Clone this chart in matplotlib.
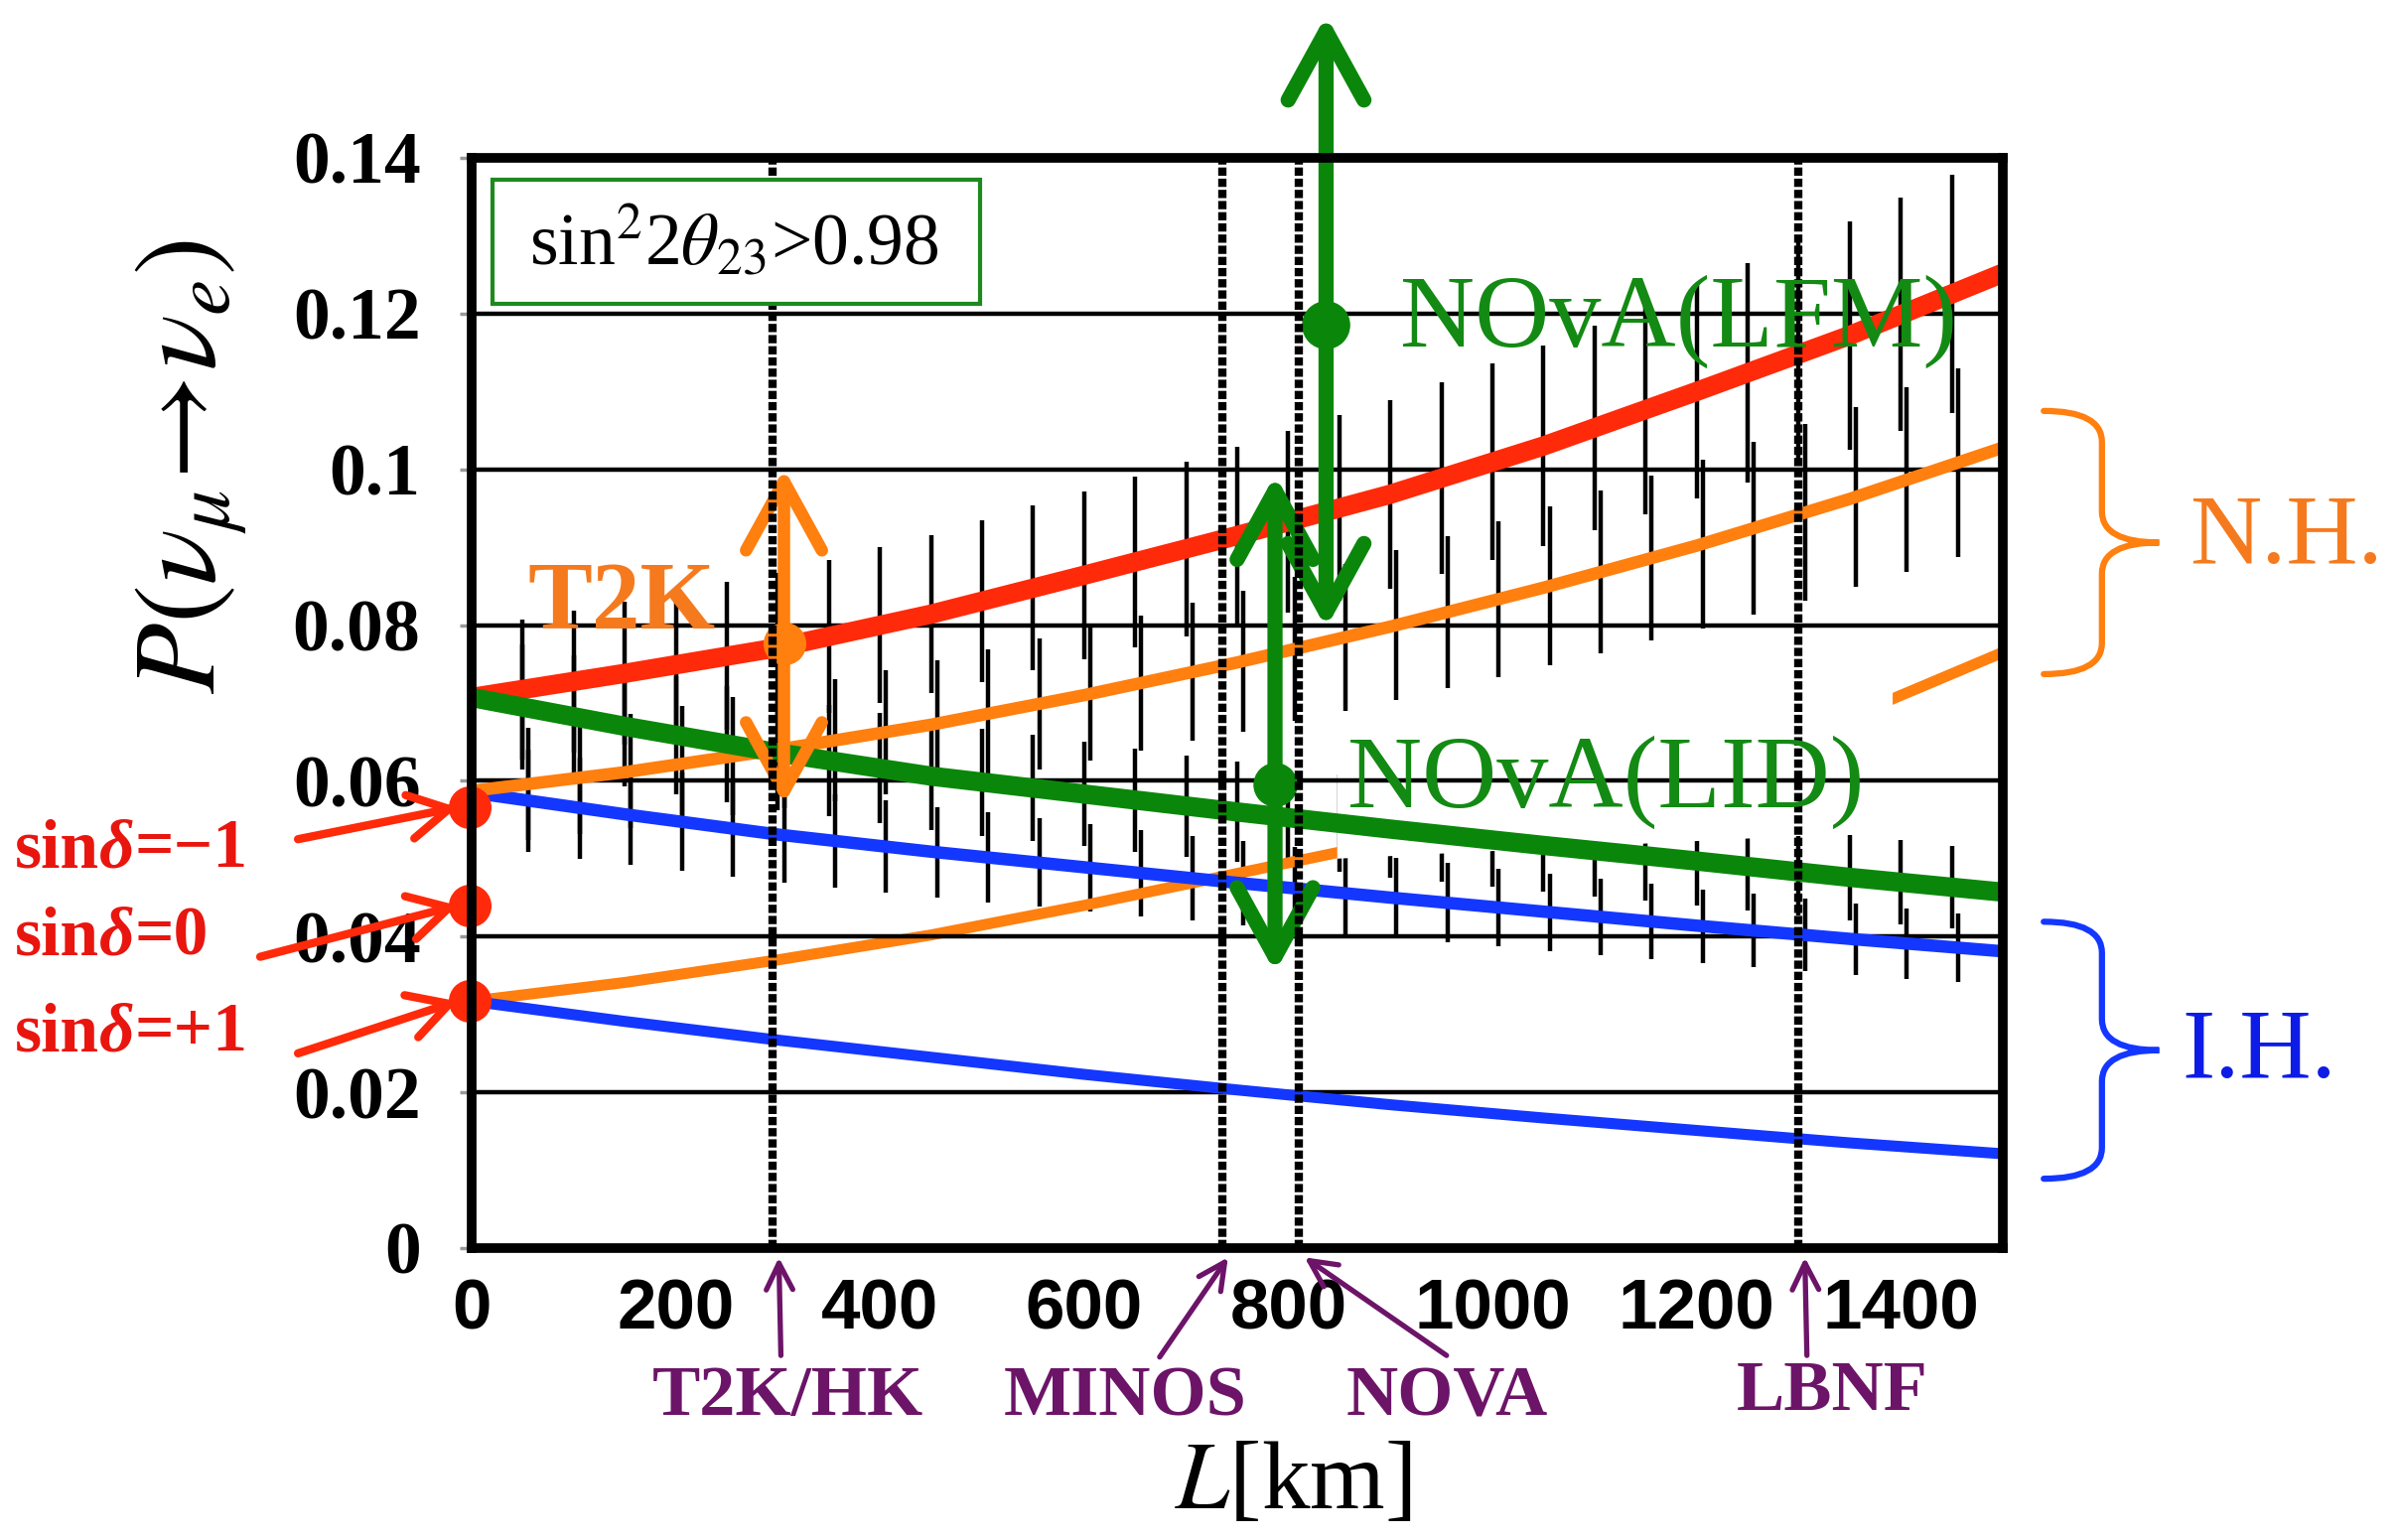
import numpy as np
import matplotlib
matplotlib.use('Agg')
from matplotlib import pyplot as plt, rcParams
from matplotlib.path import Path
from matplotlib.patches import PathPatch, Polygon, Rectangle

rcParams['font.family'] = ['Liberation Serif', 'DejaVu Sans']
rcParams['mathtext.fontset'] = 'stix'

# ---- data ----
L_curve = [0, 150, 300, 450, 600, 750, 900, 1050, 1200, 1350, 1500]
red_top = [0.0707, 0.0738, 0.0771, 0.0814, 0.0864, 0.0915, 0.0968, 0.1030, 0.1100, 0.1172, 0.1252]
green_top = [0.0707, 0.0670, 0.0636, 0.0606, 0.0583, 0.0560, 0.0538, 0.0517, 0.0497, 0.0476, 0.0457]
nh_minus = [0.0587, 0.0611, 0.0640, 0.0672, 0.0710, 0.0752, 0.0798, 0.0848, 0.0902, 0.0962, 0.1028]
ih_minus = [0.0585, 0.0557, 0.0531, 0.0509, 0.0489, 0.0469, 0.0450, 0.0432, 0.0414, 0.0397, 0.0381]
nh_plus = [0.0317, 0.0341, 0.0370, 0.0402, 0.0440, 0.0481, 0.0522, 0.0565, 0.0617, 0.0682, 0.0765]
ih_plus = [0.0317, 0.0291, 0.0267, 0.0245, 0.0223, 0.0203, 0.0184, 0.0167, 0.0151, 0.0135, 0.0121]

bar_L = np.arange(50, 1500, 50)      # positions of the black error bars
bar_rel = [0.125, 0.12, 0.115, 0.115]  # half length / value for red, N.H., green, I.H. sets

exp_names = ['T2K/HK', 'MINOS', 'NOVA', 'LBNF']
exp_L = [295, 735, 810, 1300]

sin_values = ['−1', '0', '+1']
sin_P = [0.0566, 0.0440, 0.0317]

nova_lfm = (837, 0.1186, 0.1583, 0.0796)   # L, point, arrow top, arrow bottom
nova_lid = (787, 0.0596, 0.0993, 0.0354)
t2k = (306, 0.0777, 0.1001, 0.0570)

yticks = [0, 0.02, 0.04, 0.06, 0.08, 0.1, 0.12, 0.14]
ytick_labels = ['0', '0.02', '0.04', '0.06', '0.08', '0.1', '0.12', '0.14']
xticks = [0, 200, 400, 600, 800, 1000, 1200, 1400]

red_c = '#ff2a0a'
orange_c = '#ff7f0f'
green_c = '#0a870a'
blue_c = '#1437ff'
purple_c = '#6c1468'
red_txt = '#e8160f'

fig = plt.figure(figsize=(24.18, 15.51), dpi=100)
ax = fig.add_axes([0.1964, 0.1896, 0.6378, 0.7079])
ax.set_xlim(0, 1500)
ax.set_ylim(0, 0.14)

# error bars
for curve, rel, shift in [(red_top, bar_rel[0], 0), (nh_minus, bar_rel[1], 6),
                          (green_top, bar_rel[2], 0), (ih_minus, bar_rel[3], 6)]:
    c = np.interp(bar_L + shift, L_curve, curve)
    ax.vlines(bar_L + shift, c * (1 - rel), c * (1 + rel), color='k', lw=3.2, zorder=1)

# grid lines
ax.hlines(yticks[1:-1], 0, 1500, color='k', lw=3.2, zorder=1.7)

# curves
ax.plot(L_curve, nh_plus, color=orange_c, lw=8, zorder=1.2, solid_capstyle='butt')
ax.add_patch(Polygon([(848, 0.0500), (848, 0.0680), (1392, 0.0725), (1392, 0.0535)],
                     closed=True, facecolor='white', edgecolor='none', zorder=1.5))
ax.plot(L_curve, ih_plus, color=blue_c, lw=8, zorder=3, solid_capstyle='butt')
ax.plot(L_curve, ih_minus, color=blue_c, lw=9, zorder=3, solid_capstyle='butt')
ax.plot(L_curve, nh_minus, color=orange_c, lw=9, zorder=3, solid_capstyle='butt')
ax.plot(L_curve, green_top, color=green_c, lw=14, zorder=3.3, solid_capstyle='butt')
ax.plot(L_curve, red_top, color=red_c, lw=14, zorder=3.2, solid_capstyle='butt')

# experiment baselines
for x in exp_L:
    ax.plot([x, x], [0, 0.14], color='k', lw=6, ls=(0, (1.0, 0.35)),
            dash_capstyle='butt', zorder=5.5)

# double arrows with points
def double_arrow(spec, color, lw, ms):
    x, p, top, bot = spec
    ax.annotate('', xy=(x, top), xytext=(x, bot), annotation_clip=False,
                arrowprops=dict(arrowstyle='<->,head_length=1.0,head_width=0.55',
                                mutation_scale=50, lw=lw, color=color,
                                shrinkA=0, shrinkB=0, capstyle='round',
                                joinstyle='round'), zorder=5)
    ax.plot(x, p, 'o', color=color, ms=ms, zorder=5, clip_on=False)

double_arrow(nova_lfm, green_c, 11, 34)
double_arrow(nova_lid, green_c, 11, 31)
double_arrow(t2k, orange_c, 9, 30)

ax.text(910, 0.1190, 'NOvA(LFM)', color='#138a13', fontsize=75, va='center', ha='left', zorder=6)
ax.text(858, 0.0598, 'NOvA(LID)', color='#138a13', fontsize=75, va='center', ha='left', zorder=6)
ax.text(55, 0.0826, 'T2K', color='#f57a1e', fontsize=70, weight='bold', va='center', ha='left', zorder=6)

# sin^2 2theta box
ax.add_patch(Rectangle((21, 0.1213), 477, 0.0159, facecolor='white', edgecolor='#1e8a1e',
                       lw=3, zorder=6))
ax.text(257, 0.1290, r'sin$^2$2$\theta_{23}$>0.98', fontsize=53, ha='center', va='center', zorder=7)

# sin delta markers
ax.plot([-3, -3], [sin_P[0], sin_P[2]], color=red_c, lw=2.5, zorder=4, clip_on=False)
ax.plot([-2] * 3, sin_P, 'o', color=red_c, ms=30, zorder=4, clip_on=False)
tails = [(-170, 0.0525), (-207, 0.0374), (-170, 0.0250)]
text_P = [0.0511, 0.0399, 0.0275]
for val, p, tail, tp in zip(sin_values, sin_P, tails, text_P):
    ax.annotate('', xy=(-14, p), xytext=tail, annotation_clip=False,
                arrowprops=dict(arrowstyle='->,head_length=0.9,head_width=0.5', mutation_scale=32,
                                lw=6, color=red_c, shrinkA=0, shrinkB=0))
    t1 = ax.text(-447, tp, 'sin', color=red_txt, fontsize=50, weight='bold', ha='left',
                 va='center', clip_on=False)
    t2 = ax.annotate('δ', xy=(1, 0), xycoords=t1, color=red_txt, fontsize=50, weight='bold',
                     style='italic', ha='left', va='bottom', annotation_clip=False)
    ax.annotate('=' + val, xy=(1, 0), xycoords=t2, color=red_txt, fontsize=50, weight='bold',
                ha='left', va='bottom', annotation_clip=False)

# experiment labels below the axis
arrow_tails = [(303, -0.0138), (674, -0.0140), (955, -0.0138), (1308, -0.0138)]
label_pos = [(310, -0.0192), (640, -0.0192), (955, -0.0192), (1333, -0.0186)]
for name, x, tail, pos in zip(exp_names, exp_L, arrow_tails, label_pos):
    ax.annotate('', xy=(x + 6, -0.0012), xytext=tail, annotation_clip=False,
                arrowprops=dict(arrowstyle='->,head_length=0.8,head_width=0.4', mutation_scale=24,
                                lw=3.8, color=purple_c, shrinkA=0, shrinkB=0))
    ax.text(pos[0], pos[1], name, color=purple_c, fontsize=52, weight='bold',
            ha='center', va='center', clip_on=False)

# braces for hierarchies
def brace(x0, x1, x2, ytop, ybot, color, d=0.004):
    ymid = (ytop + ybot) / 2
    verts = [(x0, ytop), (x1, ytop), (x1, ytop - d), (x1, ymid + d), (x1, ymid), (x2, ymid),
             (x1, ymid), (x1, ymid - d), (x1, ybot + d), (x1, ybot), (x0, ybot)]
    codes = [Path.MOVETO, Path.CURVE3, Path.CURVE3, Path.LINETO, Path.CURVE3, Path.CURVE3,
             Path.CURVE3, Path.CURVE3, Path.LINETO, Path.CURVE3, Path.CURVE3]
    ax.add_patch(PathPatch(Path(verts, codes), facecolor='none', edgecolor=color, lw=4.5,
                           clip_on=False, capstyle='round'))

brace(1540, 1597, 1653, 0.1075, 0.0737, orange_c)
brace(1540, 1597, 1653, 0.0419, 0.0089, blue_c)
ax.text(1683, 0.0910, 'N.H.', color='#f57a1e', fontsize=72, va='center', ha='left', clip_on=False)
ax.text(1675, 0.0250, 'I.H.', color='#0d1be6', fontsize=72, va='center', ha='left', clip_on=False)

# axes styling
for s in ax.spines.values():
    s.set_linewidth(7)
    s.set_zorder(10)
ax.set_yticks(yticks)
ax.set_yticklabels(ytick_labels, fontsize=53, weight='bold')
ax.set_xticks(xticks)
ax.set_xticklabels([str(v) for v in xticks], fontsize=51, weight='bold', family='Liberation Sans')
ax.tick_params(axis='y', direction='out', length=9, width=2.5, color='#999999', pad=28)
ax.tick_params(axis='x', length=0, pad=22)

ax.text(805, -0.0305, r'$L$[km]', fontsize=70, ha='center', va='center', clip_on=False)
fig.text(193 / 2418, 1 - 470 / 1551, r'$P(\nu_\mu\!\rightarrow\!\nu_e)$', fontsize=84,
         rotation=90, ha='center', va='center')

fig.savefig('out.png', dpi=100, facecolor='white')
